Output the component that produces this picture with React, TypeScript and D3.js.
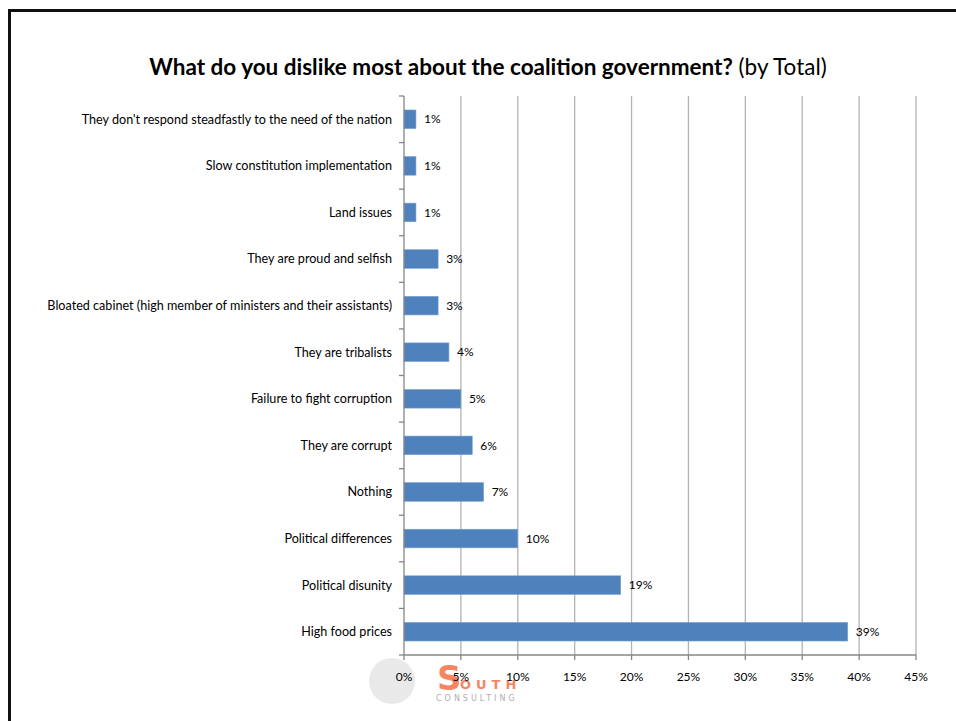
import React from "react";
import * as d3 from "d3";

const categories = [
  "They don't respond steadfastly to the need of the nation",
  "Slow constitution implementation",
  "Land issues",
  "They are proud and selfish",
  "Bloated cabinet (high member of ministers and their assistants)",
  "They are tribalists",
  "Failure to fight corruption",
  "They are corrupt",
  "Nothing",
  "Political differences",
  "Political disunity",
  "High food prices",
];
const values = [1.05, 1.05, 1.05, 3.0, 3.0, 3.95, 5.0, 6.0, 7.0, 10.0, 19.05, 39.0];
const valueLabels = ["1%", "1%", "1%", "3%", "3%", "4%", "5%", "6%", "7%", "10%", "19%", "39%"];
const xTicks = [0, 5, 10, 15, 20, 25, 30, 35, 40, 45];

const W = 956;
const H = 721;
const left = 404;
const right = 916;
const top = 96;
const bottom = 655;
const FONT = "Lato, 'Open Sans', sans-serif";

export default function App() {
  const x = d3.scaleLinear().domain([0, 45]).range([left, right]);
  const y = d3.scaleBand<string>().domain(categories).range([top, bottom]).paddingInner(0.6).paddingOuter(0.3);
  const band = (bottom - top) / categories.length;
  const boundaries = d3.range(categories.length + 1).map((i) => top + i * band);

  return (
    <svg width={W} height={H} style={{ position: "absolute", left: 0, top: 0 }} fontFamily={FONT}>
      <rect x={0} y={0} width={W} height={H} fill="#fff" />
      {/* frame */}
      <path d={`M9.5,${H + 5} V10.5 H${W + 5}`} fill="none" stroke="#111" strokeWidth={3} />

      {/* title */}
      <text x={488} y={75} textAnchor="middle" fontSize={22.5} fill="#000">
        <tspan fontWeight="bold">What do you dislike most about the coalition government?</tspan>
        <tspan> (by Total)</tspan>
      </text>

      {/* gridlines */}
      {xTicks.map((t) =>
        t === 0 ? null : (
          <line key={"g" + t} x1={x(t)} x2={x(t)} y1={top} y2={bottom} stroke="#b3b3b3" strokeWidth={1.3} />
        )
      )}

      {/* logo watermark */}
      <g opacity={0.8}>
        <circle cx={392} cy={681} r={23} fill="#e4e4e4" />
        <text x={437} y={690} fontSize={34} fontWeight="bold" fill="#f4683c" fontFamily="'DejaVu Sans', sans-serif">S</text>
        <text x={460} y={689} fontSize={13} fontWeight="bold" fill="#f4683c" letterSpacing={5} fontFamily="'DejaVu Sans', sans-serif">OUTH</text>
        <text x={436} y={701} fontSize={8} fill="#999" letterSpacing={3} fontFamily="'DejaVu Sans', sans-serif">CONSULTING</text>
      </g>

      {/* bars */}
      {categories.map((c, i) => (
        <g key={c}>
          <rect
            x={x(0)}
            y={y(c)!}
            width={x(values[i]) - x(0)}
            height={y.bandwidth()}
            fill="#4f81bd"
            stroke="#7ba3d4"
            strokeWidth={0.6}
          />
          <text x={x(values[i]) + 8} y={y(c)! + y.bandwidth() / 2} dy="0.35em" fontSize={12} fill="#000">
            {valueLabels[i]}
          </text>
          <text x={left - 12} y={y(c)! + y.bandwidth() / 2} dy="0.35em" fontSize={12.6} textAnchor="end" fill="#000">
            {c}
          </text>
        </g>
      ))}

      {/* y axis */}
      <line x1={left} x2={left} y1={top} y2={bottom} stroke="#868686" strokeWidth={1.3} />
      {boundaries.map((b, i) => (
        <line key={"yt" + i} x1={left - 5} x2={left} y1={b} y2={b} stroke="#868686" strokeWidth={1.3} />
      ))}

      {/* x axis */}
      <line x1={left} x2={right} y1={bottom} y2={bottom} stroke="#868686" strokeWidth={1.3} />
      {xTicks.map((t) => (
        <g key={"xt" + t}>
          <line x1={x(t)} x2={x(t)} y1={bottom} y2={bottom + 5} stroke="#868686" strokeWidth={1.3} />
          <text x={x(t)} y={677} dy="0.35em" fontSize={12} textAnchor="middle" fill="#000">
            {t + "%"}
          </text>
        </g>
      ))}
    </svg>
  );
}
